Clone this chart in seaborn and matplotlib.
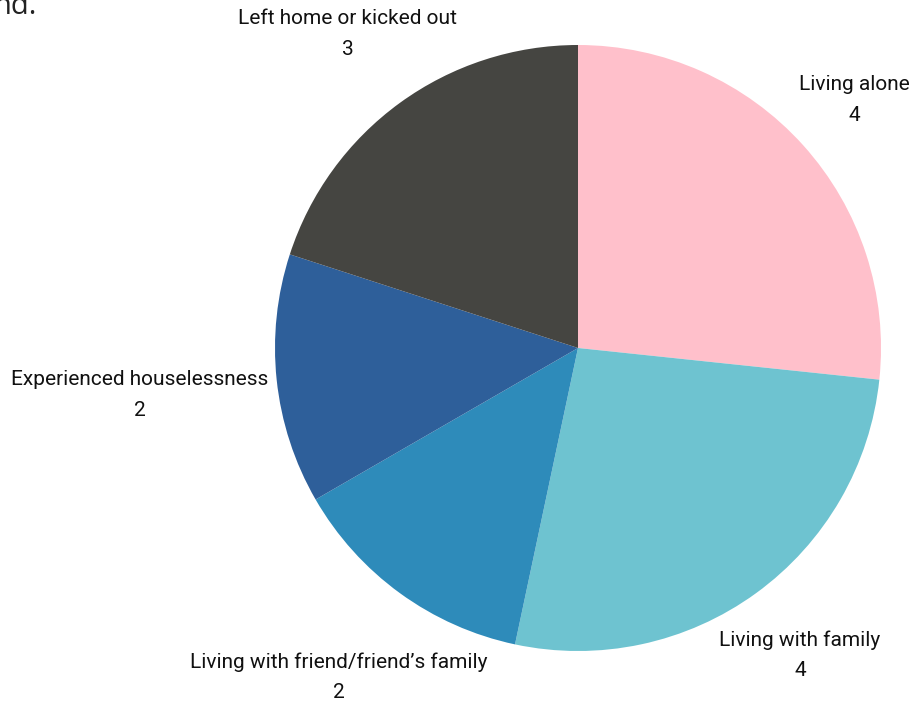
import matplotlib
matplotlib.use("Agg")
import matplotlib.pyplot as plt
import seaborn as sns

categories = ["Living alone", "Living with family", "Living with friend/friend\u2019s family",
              "Experienced houselessness", "Left home or kicked out"]
counts = [4, 4, 2, 2, 3]
colors = ["#FFC0CB", "#6EC3D0", "#2E8BBA", "#2E5F9A", "#454541"]

sns.set_theme(style="white")
plt.rcParams["font.family"] = ["Roboto", "DejaVu Sans"]

W, H = 924, 704
fig = plt.figure(figsize=(W / 100, H / 100), dpi=100)
ax = fig.add_axes([0, 0, 1, 1])

cx, cy, r = 578, H - 348, 303
ax.pie(counts, colors=colors, startangle=90, counterclock=False,
       center=(cx, cy), radius=r, frame=True,
       wedgeprops=dict(linewidth=0))
ax.set_xlim(0, W)
ax.set_ylim(0, H)
ax.set_aspect("equal")
ax.axis("off")

# label anchor points (pixel positions, y measured from top)
label_pos = [(854, 100), (800, 655), (339, 677), (140, 395), (348, 34)]
for name, val, (lx, ly) in zip(categories, counts, label_pos):
    ax.text(lx, H - ly, f"{name}\n{val}", ha="center", va="center",
            fontsize=15, color="#111111", linespacing=1.75)

# heading runs off the top-left edge
fig.text(-0.007, 1 - 14 / H, "nd.", fontsize=21, color="#222222",
         family=["Open Sans", "DejaVu Sans"], ha="left", va="baseline")

fig.savefig("out.png", dpi=100)
